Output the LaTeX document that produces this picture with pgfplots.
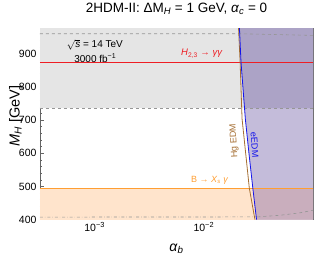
\documentclass[border=0pt]{standalone}
\usepackage{fontspec}
\setmainfont{Liberation Sans}
\usepackage{pgfplots}
\pgfplotsset{compat=1.18}
\definecolor{bandgray}{RGB}{229,229,229}
\definecolor{dashgray}{RGB}{150,150,150}
\definecolor{hred}{RGB}{238,30,36}
\definecolor{borange}{RGB}{255,158,50}
\definecolor{orfill}{RGB}{255,228,204}
\definecolor{purL}{RGB}{196,188,218}
\definecolor{purD}{RGB}{172,163,198}
\definecolor{purM}{RGB}{201,174,189}
\definecolor{hgbrown}{RGB}{165,110,50}
\definecolor{eblue}{RGB}{20,20,235}
\definecolor{framec}{RGB}{100,100,100}
\begin{document}
\begin{tikzpicture}
\begin{axis}[
  xmode=log, scale only axis, width=273pt, height=191.5pt,
  xmin=3.16e-4, xmax=0.1, ymin=400, ymax=977,
  axis line style={framec, line width=0.9pt},
  tick style={framec, line width=0.4pt},
  tick align=inside,
  major tick length=4pt, minor tick length=2pt,
  xtick={1e-3,1e-2}, xticklabels={10\textsuperscript{−3},10\textsuperscript{−2}},
  minor xtick={4e-4,5e-4,6e-4,7e-4,8e-4,9e-4,2e-3,3e-3,4e-3,5e-3,6e-3,7e-3,8e-3,9e-3,2e-2,3e-2,4e-2,5e-2,6e-2,7e-2,8e-2,9e-2},
  ytick={400,500,600,700,800,900}, yticklabels={400,500,600,700,800,900},
  minor ytick={420,440,460,480,520,540,560,580,620,640,660,680,720,740,760,780,820,840,860,880,920,940,960},
  ticklabel style={font=\fontsize{10.5}{11}\selectfont, text=black},
  xticklabel style={anchor=base, yshift=-12pt},
  title={2HDM-II: ΔM\textsubscript{\textit{H}} = 1 GeV, \textit{α}\textsubscript{\textit{c}} = 0},
  title style={at={(axis description cs:0.5,1.0486)}, anchor=base, font=\fontsize{13.5}{14}\selectfont},
  xlabel={\textit{α}\textsubscript{\textit{b}}},
  xlabel style={at={(axis description cs:0.5,-0.166)}, anchor=base, font=\fontsize{14}{15}\selectfont},
  ylabel={\textit{M}\textsubscript{\textit{H}} [GeV]},
  ylabel style={at={(axis description cs:-0.075,0.54)}, anchor=base, rotate=0, font=\fontsize{14.5}{15}\selectfont},
  clip=true,
]
% bands
\addplot[draw=none, fill=bandgray] coordinates {(3.16e-4,736) (0.1,736) (0.1,977) (3.16e-4,977)} -- cycle;
\addplot[draw=none, fill=orfill] coordinates {(3.16e-4,400) (0.1,400) (0.1,493) (3.16e-4,493)} -- cycle;
% purple excluded region (right of eEDM)
\addplot[draw=none, fill=purL] coordinates {(0.0212,977) (0.0219,875) (0.0240,704) (0.0259,600) (0.0281,495) (0.0304,400) (0.1,400) (0.1,977)} -- cycle;
\addplot[draw=none, fill=purD] coordinates {(0.0212,977) (0.0219,875) (0.02362,736) (0.1,736) (0.1,977)} -- cycle;
\addplot[draw=none, fill=purM] coordinates {(0.02813,493) (0.0304,400) (0.1,400) (0.1,493)} -- cycle;
% dashed boundaries
\addplot[draw=dashgray, dashed, line width=0.6pt] coordinates {(3.16e-4,960) (0.02,960) (0.1,955)};
\addplot[draw=dashgray, dashed, line width=0.6pt] coordinates {(3.16e-4,736) (0.1,736)};
\addplot[draw=dashgray, dash dot, line width=0.6pt] coordinates {(3.16e-4,407.5) (0.031,408)};
\addplot[draw=dashgray, dashed, line width=0.6pt] coordinates {(0.031,408) (0.05,413) (0.075,420) (0.1,428)};
% lines
\addplot[draw=hred, line width=1.2pt, mark=none] coordinates {(3.16e-4,874) (0.1,874)};
\addplot[draw=borange, line width=1pt, mark=none] coordinates {(3.16e-4,493) (0.1,493)};
\addplot[draw=hgbrown, line width=0.8pt, mark=none] coordinates {(0.0208,977) (0.0215,875) (0.0224,704) (0.0261,495) (0.0294,400)};
\addplot[draw=eblue, line width=0.8pt, mark=none] coordinates {(0.0212,977) (0.0219,875) (0.0240,704) (0.0259,600) (0.0281,495) (0.0304,400)};
% annotations
\node[anchor=west, font=\fontsize{10}{11}\selectfont, inner sep=0pt] at (axis cs:5.56e-4,927) {$\sqrt{\hbox{\textit{s}}}$ = 14 TeV};
\node[anchor=west, font=\fontsize{10}{11}\selectfont, inner sep=0pt] at (axis cs:6.49e-4,887) {3000 fb\textsuperscript{−1}};
\node[anchor=west, font=\fontsize{9.5}{10}\selectfont, text=hred, inner sep=0pt] at (axis cs:6.18e-3,900) {\textit{H}\textsubscript{2,3} → \textit{γγ}};
\node[anchor=west, font=\fontsize{9}{10}\selectfont, text=borange, inner sep=0pt] at (axis cs:7.63e-3,518) {B → \textit{X}\textsubscript{\textit{s}} \textit{γ}};
\node[rotate=93, font=\fontsize{9}{10}\selectfont, text=hgbrown, inner sep=0pt] at (axis cs:0.0190,637) {Hg EDM};
\node[rotate=-86, font=\fontsize{9}{10}\selectfont, text=eblue, inner sep=0pt] at (axis cs:0.0292,625) {eEDM};
\end{axis}
\path[use as bounding box] ([xshift=-40pt,yshift=-35.5pt]current axis.south west) rectangle ([xshift=19pt,yshift=20pt]current axis.north east);
\end{tikzpicture}
\end{document}
